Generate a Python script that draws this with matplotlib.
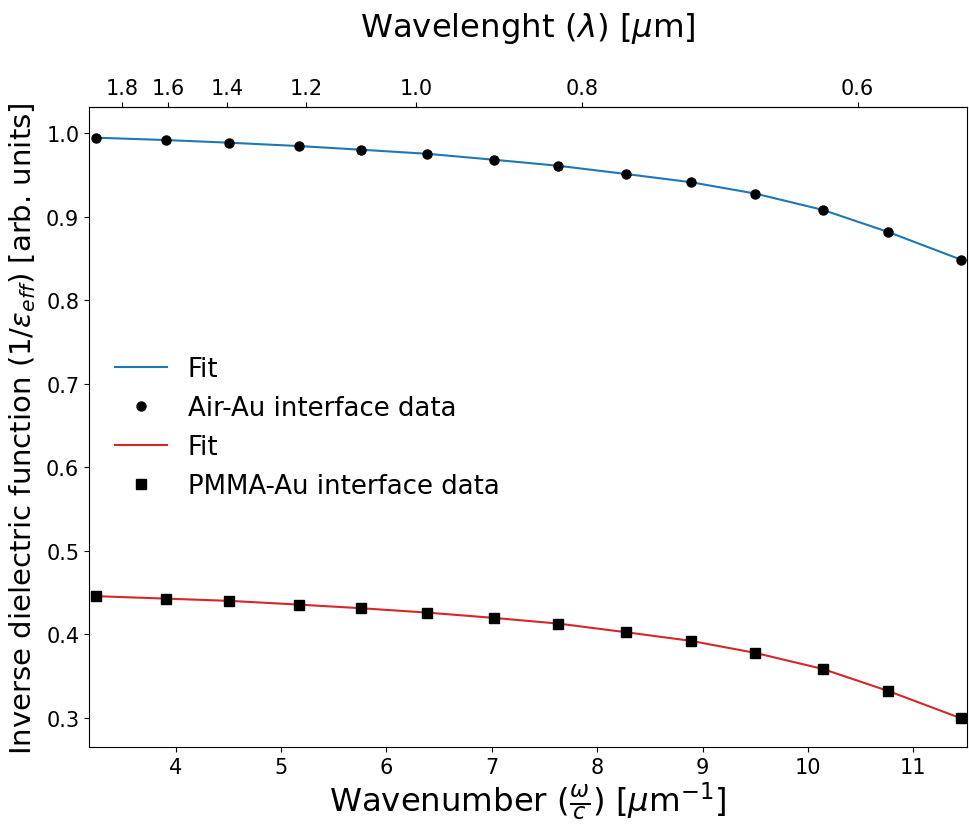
import numpy as np
import matplotlib
matplotlib.use("Agg")
import matplotlib.pyplot as plt

# Wavenumber (omega/c) [um^-1]
k = [3.247, 3.905, 4.51, 5.17, 5.76, 6.38, 7.02, 7.63, 8.27, 8.89, 9.50, 10.14, 10.76, 11.45]
air_data = [0.9944, 0.9916, 0.9884, 0.9844, 0.9800, 0.9752, 0.9680, 0.9608,
            0.9510, 0.9411, 0.9275, 0.9080, 0.8816, 0.8485]
pmma_data = [0.4454, 0.4425, 0.4398, 0.4353, 0.4310, 0.4258, 0.4194, 0.4126,
             0.4023, 0.3919, 0.3775, 0.3583, 0.3320, 0.2993]
air_fit = air_data
pmma_fit = pmma_data
top_ticks = [1.8, 1.6, 1.4, 1.2, 1.0, 0.8, 0.6]
xlim = (3.177, 11.507)

fig = plt.figure(figsize=(9.7, 8.28), dpi=100)
ax = fig.add_axes([0.0918, 0.0963, 0.9048, 0.7729])

ax.plot(k, air_fit, color='#1f77b4', lw=1.5, label='Fit')
ax.plot(k, air_data, 'o', color='black', ms=6.5, label='Air-Au interface data')
ax.plot(k, pmma_fit, color='#d62728', lw=1.5, label='Fit')
ax.plot(k, pmma_data, 's', color='black', ms=6.5, label='PMMA-Au interface data')

ax.set_xlim(*xlim)
ax.set_ylim(0.2645, 1.0308)
ax.set_xticks([4, 5, 6, 7, 8, 9, 10, 11])
ax.set_yticks([0.3, 0.4, 0.5, 0.6, 0.7, 0.8, 0.9, 1.0])
ax.tick_params(labelsize=15)
ax.set_xlabel(r'Wavenumber ($\frac{\omega}{c}$) [$\mu$m$^{-1}$]', fontsize=23.3, labelpad=2)
ax.set_ylabel(r'Inverse dielectric function ($1/\varepsilon_{eff}$) [arb. units]', fontsize=21, labelpad=6)

sec = ax.secondary_xaxis('top', functions=(lambda x: 2*np.pi/x, lambda x: 2*np.pi/x))
sec.set_xticks(top_ticks)
sec.set_xticklabels([f'{t:.1f}' for t in top_ticks])
sec.tick_params(labelsize=15)
sec.set_xlabel(r'Wavelenght ($\lambda$) [$\mu$m]', fontsize=23.3, labelpad=30)

ax.legend(loc='center left', frameon=False, fontsize=18.7, handlelength=2.0,
          borderaxespad=0.6)

fig.savefig('out.png', dpi=100)
